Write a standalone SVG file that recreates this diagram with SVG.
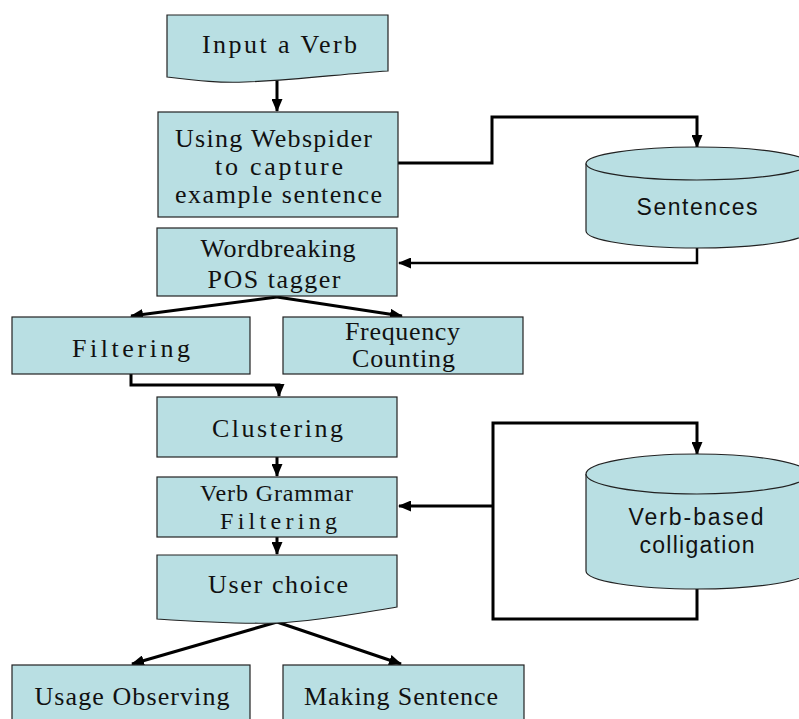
<svg xmlns="http://www.w3.org/2000/svg" width="799" height="719" viewBox="0 0 799 719">
<style>
.box{fill:#b9dfe3;stroke:#222;stroke-width:1.2}
.t{font-family:"Liberation Serif",serif;font-size:26px;fill:#111;text-anchor:middle}
.t2{font-size:24px}
.s{font-family:"Liberation Sans",Arial,sans-serif;font-size:23px;fill:#111;text-anchor:middle}
.c{fill:none;stroke:#000;stroke-width:3}
.c2{fill:none;stroke:#000;stroke-width:2.5}
</style>
<defs>
<marker id="ah" viewBox="0 0 13 11" refX="12" refY="5.5" markerWidth="13" markerHeight="11" markerUnits="userSpaceOnUse" orient="auto">
<path d="M0,0 L13,5.5 L0,11 z" fill="#000"/>
</marker>
</defs>
<rect width="799" height="719" fill="#fff"/>
<g id="connectors">
<path class="c" d="M277,80 V111" marker-end="url(#ah)"/>
<path class="c" d="M398,163 H492 V117 H697 V147" marker-end="url(#ah)"/>
<path class="c2" d="M697,248 V263 H399" marker-end="url(#ah)"/>
<path class="c" d="M277,297 L131,316" marker-end="url(#ah)"/>
<path class="c" d="M277,297 L402,316" marker-end="url(#ah)"/>
<path class="c" d="M131,374 V385 H279 V396" marker-end="url(#ah)"/>
<path class="c" d="M277,457 V476" marker-end="url(#ah)"/>
<path class="c" d="M277,537 V554" marker-end="url(#ah)"/>
<path class="c" d="M277,622 L132,664" marker-end="url(#ah)"/>
<path class="c" d="M277,622 L401,664" marker-end="url(#ah)"/>
<path class="c" d="M697,589 V619 H493 V423 H697 V454" marker-end="url(#ah)"/>
<path class="c" d="M493,506 H399" marker-end="url(#ah)"/>
</g>
<g id="input">
<path class="box" d="M167,15 H388 V71 C340,74 300,80 245,82 C220,83 200,81 167,77 Z"/>
<text class="t" x="279.5" y="53" textLength="155">Input a Verb</text>
</g>
<g id="webspider">
<rect class="box" x="158" y="112" width="240" height="105"/>
<text class="t" x="273.5" y="147" textLength="197">Using Webspider</text>
<text class="t" x="279" y="175" textLength="128">to capture</text>
<text class="t" x="278.5" y="203" textLength="207">example sentence</text>
</g>
<g id="sentences">
<path class="box" d="M586,163.5 V231 A111,17 0 0 0 808,231 V163.5"/>
<ellipse class="box" cx="697" cy="163.5" rx="111" ry="16.5"/>
<text class="s" x="697" y="215" textLength="121">Sentences</text>
</g>
<g id="wordbreaking">
<rect class="box" x="157" y="228" width="240" height="68"/>
<text class="t" x="278" y="257" textLength="155">Wordbreaking</text>
<text class="t" x="274" y="288" textLength="133">POS tagger</text>
</g>
<g id="filtering">
<rect class="box" x="12" y="317" width="238" height="57"/>
<text class="t" x="131" y="357" textLength="118">Filtering</text>
</g>
<g id="frequency">
<rect class="box" x="283" y="317" width="240" height="57"/>
<text class="t" x="402.5" y="340" textLength="115">Frequency</text>
<text class="t" x="403.5" y="367" textLength="103">Counting</text>
</g>
<g id="clustering">
<rect class="box" x="157" y="397" width="240" height="60"/>
<text class="t" x="277.5" y="437" textLength="131">Clustering</text>
</g>
<g id="verbgrammar">
<rect class="box" x="157" y="477" width="240" height="60"/>
<text class="t t2" x="276.5" y="501" textLength="153">Verb Grammar</text>
<text class="t t2" x="278.5" y="529" textLength="117">Filtering</text>
</g>
<g id="colligation">
<path class="box" d="M586,474 V571 A111,18 0 0 0 808,571 V474"/>
<ellipse class="box" cx="697" cy="474" rx="111" ry="20"/>
<text class="s" x="696" y="525" textLength="135">Verb-based</text>
<text class="s" x="697" y="553" textLength="115">colligation</text>
</g>
<g id="userchoice">
<path class="box" d="M157,555 H397 V607 C360,613 320,621 277,623 C240,624 200,622 157,619 Z"/>
<text class="t" x="278" y="593" textLength="140">User choice</text>
</g>
<g id="usage">
<rect class="box" x="12" y="665" width="238" height="60"/>
<text class="t" x="132" y="705" textLength="195">Usage Observing</text>
</g>
<g id="making">
<rect class="box" x="283" y="665" width="241" height="60"/>
<text class="t" x="401" y="705" textLength="194">Making Sentence</text>
</g>
</svg>
